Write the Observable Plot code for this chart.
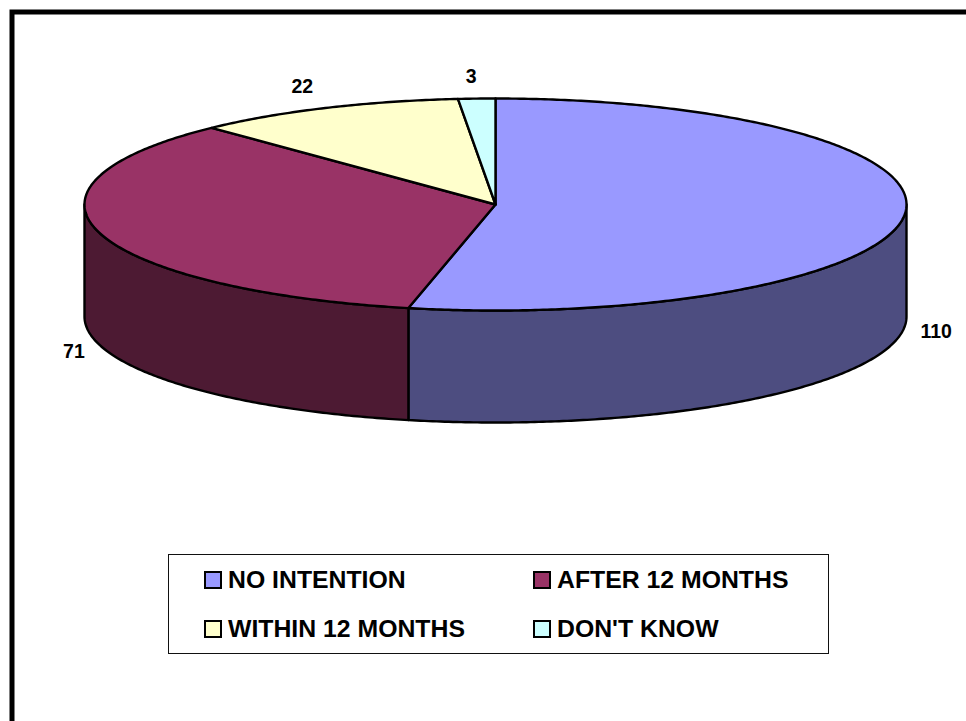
<!DOCTYPE html>
<html>
<head>
<meta charset="utf-8">
<script src="https://cdn.jsdelivr.net/npm/d3@7"></script>
<script src="https://cdn.jsdelivr.net/npm/@observablehq/plot@0.6"></script>
<style>
  html, body { margin: 0; padding: 0; background: #fff; overflow: hidden; }
  body { width: 966px; height: 721px; position: relative; font-family: "Liberation Sans", Arial, sans-serif; }
  #chart svg { display: block; }
  #corner { position: absolute; left: 0; top: 0; pointer-events: none; }
  #legend {
    position: absolute; left: 168px; top: 554px; width: 661px; height: 100px; box-sizing: border-box;
    border: 1px solid #111; display: grid; grid-template-columns: 329px 1fr; grid-auto-rows: 49px;
    padding: 0 0 0 35px; font-weight: bold; font-size: 24.8px; color: #000; background: #fff;
  }
  .item { display: flex; align-items: center; white-space: nowrap; }
  .swatch { width: 14px; height: 14px; border: 2px solid #000; margin-right: 6px; flex: none; }
</style>
</head>
<body>
<div id="chart"></div>
<svg id="corner" width="966" height="721"><path d="M966 12H12V721" fill="none" stroke="#000" stroke-width="5"/></svg>
<div id="legend"></div>
<script>
// Survey answers, in the clockwise order of the slices.
const categories = ["NO INTENTION", "AFTER 12 MONTHS", "WITHIN 12 MONTHS", "DON'T KNOW"];
const counts = [110, 71, 22, 3];
const topColors = ["#9999ff", "#993366", "#ffffcc", "#ccffff"];
const wallColors = ["#4d4d80", "#4d1a33"];

// Disc thickness in units of the vertical radius.
const depth = 112 / 106;
const labelOffsets = [[32, 116], [-26, 119], [-23, -21], [-5.5, -22]];

const total = d3.sum(counts);
let running = 0;
const slices = counts.map((value, i) => {
  const start = (running / total) * 2 * Math.PI;
  running += value;
  return { name: categories[i], value, start, end: (running / total) * 2 * Math.PI };
});

// Samples an arc of the rim; angle 0 is at the top and grows clockwise.
const arc = (a0, a1, drop = 0) => {
  const n = Math.max(2, Math.ceil(Math.abs(a1 - a0) / 0.01));
  return d3.range(n + 1).map(k => {
    const a = a0 + (a1 - a0) * k / n;
    return { x: Math.sin(a), y: Math.cos(a) - drop };
  });
};

const topFaces = slices.flatMap(s => {
  const pts = [{ x: 0, y: 0 }, ...arc(s.start, s.end), { x: 0, y: 0 }];
  return pts.map(p => ({ ...p, key: s.name }));
});

// Only the part of the rim facing the viewer gets a wall.
const wallFaces = slices.flatMap((s, i) => {
  const a0 = Math.max(s.start, Math.PI / 2), a1 = Math.min(s.end, 3 * Math.PI / 2);
  if (a1 <= a0) return [];
  const upper = arc(a0, a1), lower = arc(a1, a0, depth);
  return [...upper, ...lower, upper[0]].map(p => ({ ...p, key: "wall" + i }));
});

const labels = slices.map(s => {
  const mid = (s.start + s.end) / 2;
  return { x: Math.sin(mid), y: Math.cos(mid), value: s.value };
});

const chart = Plot.plot({
  width: 966,
  height: 540,
  margin: 0,
  style: { background: "#fff", overflow: "visible" },
  x: { domain: [-1, 1], range: [84, 906], axis: null },
  y: { domain: [1, -1], range: [98, 310], axis: null },
  color: {
    domain: [...categories, "wall0", "wall1"],
    range: [...topColors, ...wallColors]
  },
  marks: [
    Plot.line(wallFaces, { x: "x", y: "y", z: "key", fill: "key", stroke: "#000", strokeWidth: 2.4, curve: "linear" }),
    Plot.line(topFaces, { x: "x", y: "y", z: "key", fill: "key", stroke: "#000", strokeWidth: 2.4, curve: "linear", strokeLinejoin: "round" }),
    ...labels.map((d, i) => Plot.text([d], {
      x: "x", y: "y", text: "value",
      dx: labelOffsets[i][0], dy: labelOffsets[i][1],
      fontSize: 19.5, fontWeight: "bold", fontFamily: "Liberation Sans", fill: "#000"
    }))
  ]
});
document.getElementById("chart").append(chart);

// Legend box under the pie, two columns by two rows.
const legend = d3.select("#legend");
categories.forEach((name, i) => {
  const item = legend.append("div").attr("class", "item");
  item.append("span").attr("class", "swatch").style("background", topColors[i]);
  item.append("span").text(name);
});
</script>
</body>
</html>
